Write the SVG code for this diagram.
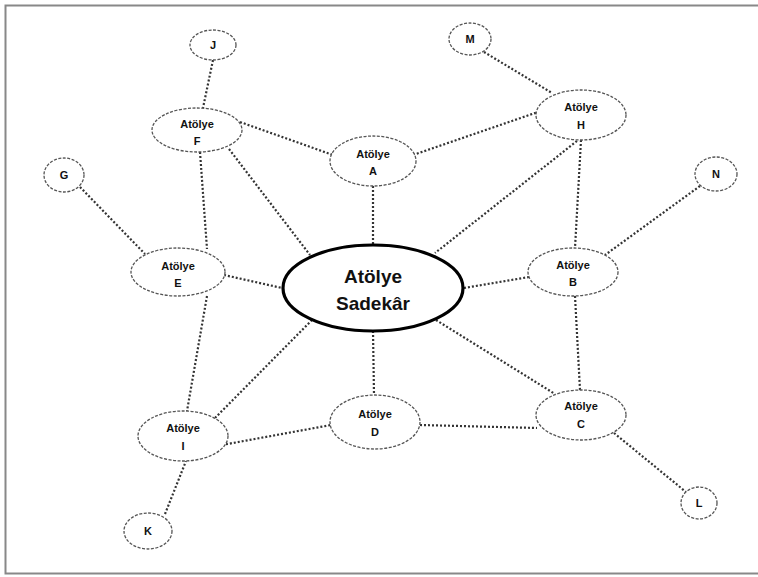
<svg xmlns="http://www.w3.org/2000/svg" width="758" height="577" viewBox="0 0 758 577">
  <style>
    .link { stroke: #333; stroke-width: 2.2; stroke-dasharray: 2 2; fill: none; }
    .node { fill: #fff; stroke: #555; stroke-width: 1.3; stroke-dasharray: 3 1.5; }
    .hub { fill: #fff; stroke: #000; stroke-width: 3.2; }
    .lbl { font-family: "Liberation Sans", Arial, sans-serif; font-weight: bold; font-size: 11px; fill: #111; text-anchor: middle; }
    .hubl { font-family: "Liberation Sans", Arial, sans-serif; font-weight: bold; font-size: 19px; fill: #111; text-anchor: middle; }
  </style>

  <!-- frame -->
  <rect x="5.5" y="5.5" width="760" height="568" fill="#fff" stroke="#888" stroke-width="2"/>

  <!-- connectors -->
  <g id="connectors">
    <line class="link" x1="213" y1="60" x2="203" y2="108"/>
    <line class="link" x1="484" y1="52" x2="552" y2="93"/>
    <line class="link" x1="80" y1="187" x2="145" y2="254"/>
    <line class="link" x1="700" y1="186" x2="605" y2="255"/>
    <line class="link" x1="165" y1="514" x2="186" y2="461"/>
    <line class="link" x1="614" y1="433" x2="686" y2="492"/>

    <line class="link" x1="240" y1="122" x2="333" y2="155"/>
    <line class="link" x1="413" y1="155" x2="538" y2="112"/>
    <line class="link" x1="373" y1="186" x2="373" y2="245"/>
    <line class="link" x1="229" y1="149" x2="310" y2="255"/>
    <line class="link" x1="200" y1="152" x2="207" y2="249"/>
    <line class="link" x1="207" y1="296" x2="187" y2="411"/>
    <line class="link" x1="224" y1="275" x2="282" y2="288"/>
    <line class="link" x1="215" y1="418" x2="312" y2="320"/>
    <line class="link" x1="222" y1="445" x2="331" y2="425"/>
    <line class="link" x1="373" y1="331" x2="374" y2="395"/>
    <line class="link" x1="420" y1="425" x2="537" y2="428"/>
    <line class="link" x1="436" y1="320" x2="555" y2="394"/>
    <line class="link" x1="575" y1="296" x2="580" y2="390"/>
    <line class="link" x1="464" y1="288" x2="529" y2="277"/>
    <line class="link" x1="581" y1="140" x2="575" y2="248"/>
    <line class="link" x1="577" y1="141" x2="435" y2="253"/>
  </g>

  <!-- hub -->
  <g id="hub">
    <ellipse class="hub" cx="373" cy="288" rx="90" ry="43"/>
    <text class="hubl" x="373" y="283">Atölye</text>
    <text class="hubl" x="373" y="310">Sadekâr</text>
  </g>

  <g id="node-A">
    <ellipse class="node" cx="373" cy="161" rx="43" ry="25"/>
    <text class="lbl" x="373" y="158">Atölye</text>
    <text class="lbl" x="373" y="175">A</text>
  </g>
  <g id="node-B">
    <ellipse class="node" cx="573" cy="272" rx="45" ry="24"/>
    <text class="lbl" x="573" y="269">Atölye</text>
    <text class="lbl" x="573" y="286">B</text>
  </g>
  <g id="node-C">
    <ellipse class="node" cx="581" cy="415" rx="45" ry="25"/>
    <text class="lbl" x="581" y="410">Atölye</text>
    <text class="lbl" x="581" y="428">C</text>
  </g>
  <g id="node-D">
    <ellipse class="node" cx="375" cy="422" rx="45" ry="27"/>
    <text class="lbl" x="375" y="418">Atölye</text>
    <text class="lbl" x="375" y="436">D</text>
  </g>
  <g id="node-E">
    <ellipse class="node" cx="178" cy="272" rx="47" ry="24"/>
    <text class="lbl" x="178" y="270">Atölye</text>
    <text class="lbl" x="178" y="287">E</text>
  </g>
  <g id="node-F">
    <ellipse class="node" cx="197" cy="130" rx="45" ry="22"/>
    <text class="lbl" x="197" y="128">Atölye</text>
    <text class="lbl" x="197" y="145">F</text>
  </g>
  <g id="node-H">
    <ellipse class="node" cx="581" cy="115" rx="45" ry="25"/>
    <text class="lbl" x="581" y="111">Atölye</text>
    <text class="lbl" x="581" y="129">H</text>
  </g>
  <g id="node-I">
    <ellipse class="node" cx="183" cy="436" rx="45" ry="25"/>
    <text class="lbl" x="183" y="432">Atölye</text>
    <text class="lbl" x="183" y="450">I</text>
  </g>

  <g id="node-G">
    <ellipse class="node" cx="64" cy="175" rx="20" ry="17"/>
    <text class="lbl" x="64" y="179">G</text>
  </g>
  <g id="node-J">
    <ellipse class="node" cx="213" cy="45" rx="23" ry="15"/>
    <text class="lbl" x="213" y="49">J</text>
  </g>
  <g id="node-K">
    <ellipse class="node" cx="148" cy="531" rx="24" ry="18"/>
    <text class="lbl" x="148" y="535">K</text>
  </g>
  <g id="node-L">
    <ellipse class="node" cx="699" cy="503" rx="18" ry="16"/>
    <text class="lbl" x="699" y="507">L</text>
  </g>
  <g id="node-M">
    <ellipse class="node" cx="470" cy="39" rx="21" ry="16"/>
    <text class="lbl" x="470" y="43">M</text>
  </g>
  <g id="node-N">
    <ellipse class="node" cx="716" cy="174" rx="21" ry="17"/>
    <text class="lbl" x="716" y="178">N</text>
  </g>
</svg>
